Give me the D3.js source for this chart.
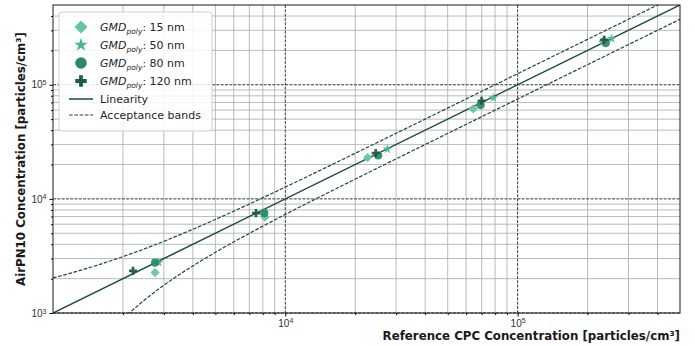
<!DOCTYPE html>
<meta charset="utf-8">
<head>
  <title>AirPN10 vs reference CPC</title>
</head>
<body>
<style>
  html, body { margin: 0; padding: 0; background: #fff; }
  svg { display: block; font-family: "DejaVu Sans", sans-serif; }
  .minor line { stroke: #aaa; stroke-width: 0.8px; }
  .major line { stroke: #222; stroke-width: 0.9px; stroke-dasharray: 3, 1.3; }
  .axis text { font-size: 10px; fill: #333; }
  .axis path { display: none; }
  .axis line { stroke: #000; }
  .label { font-size: 11.8px; font-weight: bold; fill: #1a1a1a; }
  .legend text { font-size: 11px; fill: #262626; }
</style>
<div id="chart"></div>
<script src="https://cdn.jsdelivr.net/npm/d3@7/dist/d3.min.js"></script>
<script>

// GMD classes
var gmdLabels = ["15 nm", "50 nm", "80 nm", "120 nm"];
var gmdColors = ["#66c6a3", "#45bb86", "#2b8a6c", "#1d5a47"];

// reference CPC concentration (x) and AirPN10 concentration (y)
var ref15 = [2750, 8170, 22600, 64400, 233000];
var air15 = [2260, 6900, 23000, 61500, 240000];
var ref50 = [2850, 8100, 27500, 78600, 254000];
var air50 = [2780, 7650, 27300, 76900, 253500];
var ref80 = [2750, 8120, 25100, 69300, 239500];
var air80 = [2760, 7500, 24000, 66400, 232000];
var ref120 = [2210, 7480, 24500, 70000, 236000];
var air120 = [2340, 7500, 25200, 72400, 248000];

var xTicks = [1e4, 1e5];
var yTicks = [1e3, 1e4, 1e5];

(function() {

var series = [
  { x: ref15, y: air15, shape: "diamond" },
  { x: ref50, y: air50, shape: "star" },
  { x: ref80, y: air80, shape: "circle" },
  { x: ref120, y: air120, shape: "plus" }
];

var width = 695, height = 346,
    mLeft = 53, mRight = 680, mTop = 5, mBottom = 313;

var x = d3.scaleLog().domain([1e3, 5e5]).range([mLeft, mRight]);
var y = d3.scaleLog().domain([1e3, 5e5]).range([mBottom, mTop]);

var svg = d3.select("#chart").append("svg")
    .attr("width", width)
    .attr("height", height);

svg.append("clipPath").attr("id", "clip")
  .append("rect")
    .attr("x", mLeft).attr("y", mTop)
    .attr("width", mRight - mLeft).attr("height", mBottom - mTop);

// minor tick values within the domain
function minors(domain) {
  var out = [];
  for (var e = 3; e <= 5; e++) {
    for (var m = 2; m <= 9; m++) {
      var v = m * Math.pow(10, e);
      if (v > domain[0] && v < domain[1]) out.push(v);
    }
  }
  return out;
}
var xMinor = minors(x.domain()), yMinor = minors(y.domain());

// grids
var minor = svg.append("g").attr("class", "minor");
minor.selectAll(".vx").data(xMinor).enter().append("line")
    .attr("x1", x).attr("x2", x).attr("y1", mTop).attr("y2", mBottom);
minor.selectAll(".hy").data(yMinor).enter().append("line")
    .attr("y1", y).attr("y2", y).attr("x1", mLeft).attr("x2", mRight);

var major = svg.append("g").attr("class", "major");
major.selectAll(".vx").data(xTicks).enter().append("line")
    .attr("x1", x).attr("x2", x).attr("y1", mTop).attr("y2", mBottom);
major.selectAll(".hy").data(yTicks).enter().append("line")
    .attr("y1", y).attr("y2", y).attr("x1", mLeft).attr("x2", mRight);

// linearity and acceptance bands
var lineColor = "#1c4a3b";
var xs = d3.range(0, 201).map(function(i) { return 1e3 * Math.pow(500, i / 200); });
function band(v) { return Math.sqrt(Math.pow(0.25 * v, 2) + 1e6); }

var line = d3.line().x(function(d) { return x(d[0]); }).y(function(d) { return y(d[1]); });
var plot = svg.append("g").attr("clip-path", "url(#clip)");

plot.append("path")
    .datum(xs.map(function(v) { return [v, v + band(v)]; }))
    .attr("d", line).attr("fill", "none").attr("stroke", lineColor)
    .attr("stroke-width", 1.2).attr("stroke-dasharray", "3.7,1.6");
plot.append("path")
    .datum(xs.map(function(v) { return [v, Math.max(v - band(v), 100)]; }))
    .attr("d", line).attr("fill", "none").attr("stroke", lineColor)
    .attr("stroke-width", 1.2).attr("stroke-dasharray", "3.7,1.6");
plot.append("path")
    .datum([[1e3, 1e3], [5e5, 5e5]])
    .attr("d", line).attr("fill", "none").attr("stroke", lineColor)
    .attr("stroke-width", 1.5);

// markers
function shapePath(shape, r) {
  if (shape === "diamond") return "M0," + (-r) + "L" + r + ",0L0," + r + "L" + (-r) + ",0Z";
  if (shape === "star") return d3.symbol(d3.symbolStar, r * r * 1.35)();
  if (shape === "circle") return d3.symbol(d3.symbolCircle, Math.PI * r * r * 0.8)();
  return d3.symbol(d3.symbolCross, r * r * 1.7)();
}

series.forEach(function(s, i) {
  plot.append("g").selectAll("path")
      .data(s.x.map(function(v, j) { return [v, s.y[j]]; }))
    .enter().append("path")
      .attr("transform", function(d) { return "translate(" + x(d[0]) + "," + y(d[1]) + ")"; })
      .attr("d", shapePath(s.shape, 4.6))
      .attr("fill", gmdColors[i])
      .attr("fill-opacity", 0.95);
});

// axes
function powLabel(sel) {
  sel.selectAll(".tick text").each(function(d) {
    var t = d3.select(this);
    t.append("tspan").text("10");
    t.append("tspan").attr("dy", "-0.45em").attr("font-size", "7px").text(Math.round(Math.log10(d)));
  });
}

var xAxis = svg.append("g").attr("class", "axis")
    .attr("transform", "translate(0," + mBottom + ")")
    .call(d3.axisBottom(x).tickValues(xTicks).tickSize(3.5).tickPadding(3)
      .tickFormat(function() { return ""; }));
powLabel(xAxis);
svg.append("g").attr("class", "axis")
    .attr("transform", "translate(0," + mBottom + ")")
    .call(d3.axisBottom(x).tickValues(xMinor).tickSize(2).tickFormat(""));

var yAxis = svg.append("g").attr("class", "axis")
    .attr("transform", "translate(" + mLeft + ",0)")
    .call(d3.axisLeft(y).tickValues(yTicks).tickSize(3.5).tickPadding(3)
      .tickFormat(function() { return ""; }));
powLabel(yAxis);
svg.append("g").attr("class", "axis")
    .attr("transform", "translate(" + mLeft + ",0)")
    .call(d3.axisLeft(y).tickValues(yMinor).tickSize(2).tickFormat(""));

// frame
svg.append("rect")
    .attr("x", mLeft).attr("y", mTop)
    .attr("width", mRight - mLeft).attr("height", mBottom - mTop)
    .attr("fill", "none").attr("stroke", "#1a1a1a").attr("stroke-width", 1);

// axis labels
svg.append("text").attr("class", "label")
    .attr("x", mRight).attr("y", 340).attr("text-anchor", "end")
    .text("Reference CPC Concentration [particles/cm³]");
svg.append("text").attr("class", "label")
    .attr("transform", "translate(25," + ((mTop + mBottom) / 2) + ") rotate(-90)")
    .attr("text-anchor", "middle")
    .text("AirPN10 Concentration [particles/cm³]");

// legend
var legend = svg.append("g").attr("class", "legend");
legend.append("rect")
    .attr("x", 59).attr("y", 12).attr("width", 153).attr("height", 119)
    .attr("rx", 3).attr("fill", "#fff").attr("fill-opacity", 0.85)
    .attr("stroke", "#d0d0d0").attr("stroke-width", 1);

var rowY = [27, 45, 63, 81, 99, 115];
gmdLabels.forEach(function(lab, i) {
  legend.append("path")
      .attr("transform", "translate(81," + rowY[i] + ")")
      .attr("d", shapePath(series[i].shape, 6.5))
      .attr("fill", gmdColors[i]);
  var t = legend.append("text").attr("x", 100).attr("y", rowY[i] + 4);
  t.append("tspan").attr("font-style", "italic").text("GMD");
  t.append("tspan").attr("font-style", "italic").attr("font-size", "7.5px").attr("dy", "2.5").text("poly");
  t.append("tspan").attr("dy", "-2.5").text(": " + lab);
});
legend.append("line")
    .attr("x1", 69).attr("x2", 93).attr("y1", rowY[4]).attr("y2", rowY[4])
    .attr("stroke", lineColor).attr("stroke-width", 1.5);
legend.append("text").attr("x", 100).attr("y", rowY[4] + 4).text("Linearity");
legend.append("line")
    .attr("x1", 69).attr("x2", 93).attr("y1", rowY[5]).attr("y2", rowY[5])
    .attr("stroke", lineColor).attr("stroke-width", 1.2).attr("stroke-dasharray", "3.7,1.6");
legend.append("text").attr("x", 100).attr("y", rowY[5] + 4).text("Acceptance bands");

})();

</script>
</body>
